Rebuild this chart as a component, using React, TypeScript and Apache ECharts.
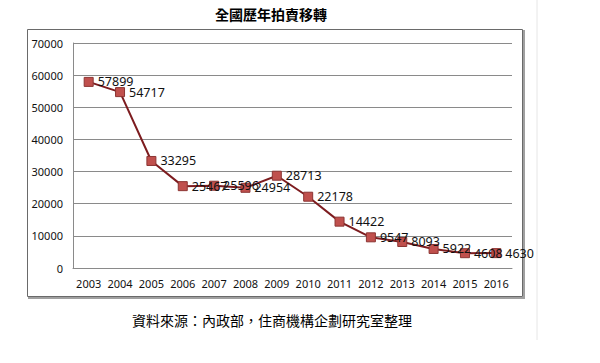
import React, { useEffect, useRef } from "react";
import * as echarts from "echarts";

const years = ["2003", "2004", "2005", "2006", "2007", "2008", "2009", "2010", "2011", "2012", "2013", "2014", "2015", "2016"];
const transfers = [57899, 54717, 33295, 25467, 25596, 24954, 28713, 22178, 14422, 9547, 8093, 5922, 4608, 4630];
const yTicks = { min: 0, max: 70000, interval: 10000 };
const titleText = "全國歷年拍賣移轉";
const sourceText = "資料來源：內政部，住商機構企劃研究室整理";

export default function App() {
  const ref = useRef<HTMLDivElement>(null);
  useEffect(() => {
    if (!ref.current) return;
    const chart = echarts.init(ref.current, null, { renderer: "svg" });
    const font = "'Noto Sans', 'Open Sans', sans-serif";
    chart.setOption({
      animation: false,
      backgroundColor: "#ffffff",
      grid: { left: 73, right: 88, top: 43, bottom: 95, containLabel: false },
      xAxis: {
        type: "category",
        data: years,
        boundaryGap: true,
        axisLine: { show: true, lineStyle: { color: "#8a8a8a", width: 1 } },
        axisTick: { show: false },
        axisLabel: { color: "#111", fontSize: 11, fontFamily: font, margin: 10, interval: 0 },
        splitLine: { show: false },
      },
      yAxis: {
        type: "value",
        min: yTicks.min,
        max: yTicks.max,
        interval: yTicks.interval,
        axisLine: { show: true, lineStyle: { color: "#8a8a8a", width: 1 } },
        axisTick: { show: false },
        axisLabel: {
          color: "#111",
          fontSize: 11,
          fontFamily: font,
          margin: 10,
          formatter: (v: number) => String(v),
        },
        splitLine: { show: true, lineStyle: { color: "#8a8a8a", width: 1 } },
      },
      series: [
        {
          type: "line",
          data: transfers,
          symbol: "rect",
          symbolSize: 9,
          lineStyle: { color: "#7d1c1f", width: 2 },
          itemStyle: { color: "#c0504d", borderColor: "#8c3533", borderWidth: 1 },
          label: {
            show: true,
            position: "right",
            distance: 4,
            color: "#111",
            fontSize: 12.5,
            fontFamily: font,
          },
          z: 3,
        },
      ],
      graphic: [
        {
          type: "line",
          shape: { x1: 537, y1: 0, x2: 537, y2: 340 },
          style: { stroke: "#e6e6e6", lineWidth: 1 },
          silent: true,
        },
        {
          type: "rect",
          shape: { x: 27.5, y: 29.5, width: 495, height: 267 },
          style: { fill: "none", stroke: "#6a6a6a", lineWidth: 1 },
          silent: true,
          z: -1,
        },
        {
          type: "polyline",
          shape: { points: [[524, 30], [524, 298], [28, 298]] },
          style: { fill: "none", stroke: "#a0a0a0", lineWidth: 2 },
          silent: true,
        },
        {
          type: "text",
          x: 271,
          y: 14,
          style: {
            text: titleText,
            fill: "#000",
            font: "bold 14px 'Noto Sans CJK TC', sans-serif",
            textAlign: "center",
            textVerticalAlign: "middle",
          },
        },
        {
          type: "text",
          x: 272,
          y: 320,
          style: {
            text: sourceText,
            fill: "#000",
            font: "14px 'Noto Sans CJK TC', sans-serif",
            textAlign: "center",
            textVerticalAlign: "middle",
          },
        },
      ],
    });
    return () => chart.dispose();
  }, []);
  return (
    <div
      ref={ref}
      style={{ position: "absolute", left: 0, top: 0, width: 600, height: 363 }}
    />
  );
}
